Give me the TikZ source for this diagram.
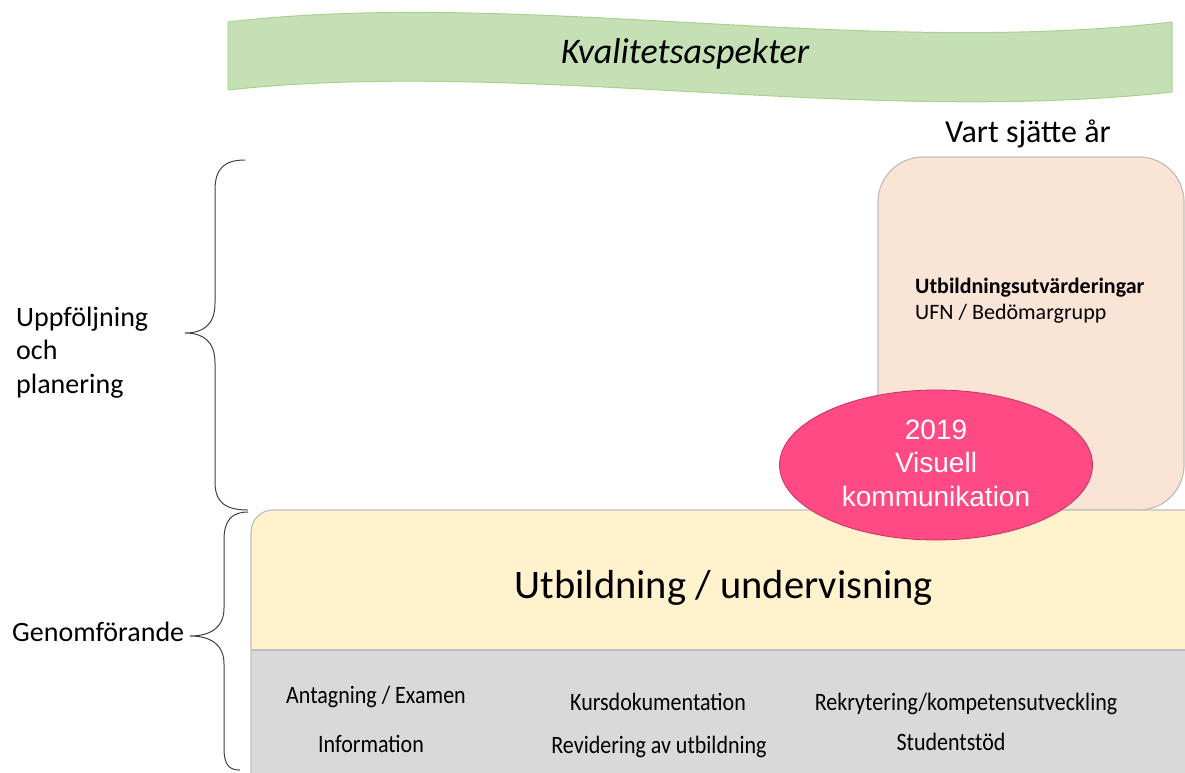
\documentclass[tikz,border=0pt]{standalone}
\usepackage{fontspec}
\setmainfont{Carlito}
\newfontfamily\arialf{Liberation Sans}
\newfontfamily\condf[FakeStretch=0.88]{Carlito}
\usetikzlibrary{shapes.geometric}
\definecolor{bannerfill}{HTML}{C5E0B4}
\definecolor{bannerline}{HTML}{A9D18E}
\definecolor{orangefill}{HTML}{FAE4D6}
\definecolor{boxline}{HTML}{BFBFBF}
\definecolor{yellowfill}{HTML}{FFF2CC}
\definecolor{grayfill}{HTML}{D9D9D9}
\definecolor{pinkfill}{HTML}{FF4A85}
\definecolor{pinkline}{HTML}{C8325E}
\tikzset{
  lbl/.style={inner sep=0pt, anchor=base, text=black},
  small/.style={lbl, font=\condf\fontsize{25}{30}\selectfont},
  bracestyle/.style={draw=black!75, line width=1pt},
}
\begin{document}
\begin{tikzpicture}[x=1pt,y=-1pt]
\useasboundingbox (0,0) rectangle (1185,772);
\clip (0,0) rectangle (1185,772);
% banner
\draw[fill=bannerfill, draw=bannerline, line width=1pt]
  (228,22) .. controls (520,-12) and (860,58) .. (1172,22)
  -- (1172,92) .. controls (860,126) and (520,58) .. (228,90) -- cycle;
\node[lbl, font=\itshape\fontsize{36}{40}\selectfont] (kval) at (685,63) {Kvalitetsaspekter};
% orange box
\draw[fill=orangefill, draw=boxline, line width=1.2pt, rounded corners=45pt]
  (878,157) rectangle (1184,510);
\node[lbl, font=\fontsize{32}{36}\selectfont] (vart) at (1028,142) {Vart sjätte år};
\node[inner sep=0pt, anchor=base west, align=left, font=\fontsize{22}{26}\selectfont] (utv) at (915,319)
  {\textbf{Utbildningsutvärderingar}\\UFN / Bedömargrupp};
% yellow / gray box
\begin{scope}
\clip[rounded corners=22pt] (251,510) rectangle (1240,800);
\fill[yellowfill] (251,510) rectangle (1240,650);
\fill[grayfill] (251,650) rectangle (1240,800);
\draw[boxline, line width=1.2pt] (251,650) -- (1240,650);
\end{scope}
\draw[boxline, line width=1.2pt, rounded corners=22pt] (251,800) -- (251,510) -- (1240,510);
\node[lbl, font=\fontsize{40.5}{44}\selectfont] (utb) at (724,598) {Utbildning / undervisning};
\node[small] (t1) at (376,703) {Antagning / Examen};
\node[small] (t2) at (658,710) {Kursdokumentation};
\node[small] (t3) at (966,710) {Rekrytering/kompetensutveckling};
\node[small] (t4) at (371,752) {Information};
\node[small] (t5) at (659,753) {Revidering av utbildning};
\node[small] (t6) at (951,750) {Studentstöd};
% ellipse
\node[ellipse, fill=pinkfill, draw=pinkline, line width=0.8pt, minimum width=313pt, minimum height=150pt,
  inner sep=0pt] (vis) at (936,465) {};
\node[inner sep=0pt, align=center, text=white, font=\arialf\fontsize{28}{33.5}\selectfont] (vistext) at (936,463)
  {2019\\Visuell\\kommunikation};
% braces
\draw[bracestyle] (245,160) .. controls (225,160) and (215,168) .. (215,190) -- (215,303)
  .. controls (215,325) and (203,333) .. (185,333)
  .. controls (203,333) and (215,341) .. (215,363) -- (215,482)
  .. controls (215,502) and (225,510) .. (248,510);
\draw[bracestyle] (248,512) .. controls (232,512) and (224,520) .. (224,540) -- (224,608)
  .. controls (224,628) and (210,636) .. (190,636)
  .. controls (210,636) and (224,644) .. (224,664) -- (224,748)
  .. controls (224,766) and (230,770) .. (240,770);
\node[inner sep=0pt, anchor=base west, align=left, font=\fontsize{28}{33.5}\selectfont] (upp) at (16,393)
  {Uppföljning\\och\\planering};
\node[lbl, anchor=base west, font=\fontsize{28}{30}\selectfont] (gen) at (12,641) {Genomförande};
\end{tikzpicture}
\end{document}
